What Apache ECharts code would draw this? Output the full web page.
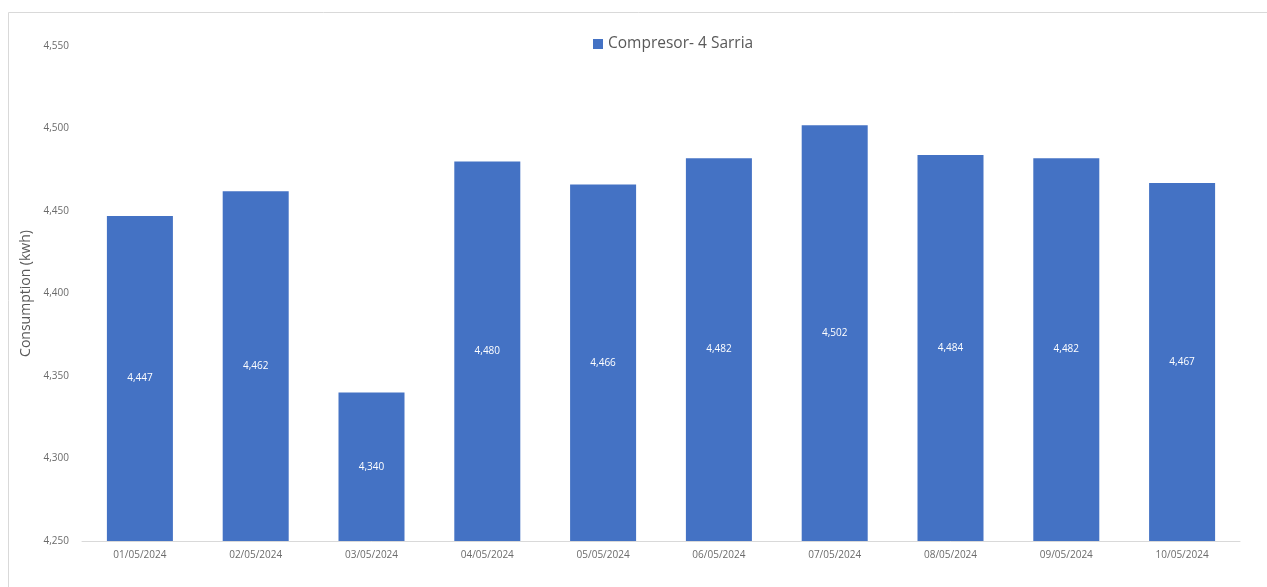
<!DOCTYPE html>
<html>
<head>
<meta charset="utf-8">
<script src="https://cdn.jsdelivr.net/npm/echarts@6/dist/echarts.min.js"></script>
<style>
  html, body { margin: 0; padding: 0; background: #fff; }
  #chart { width: 1267px; height: 587px; }
</style>
</head>
<body>
<div id="chart"></div>
<script>
var days = ["01/05/2024", "02/05/2024", "03/05/2024", "04/05/2024", "05/05/2024",
            "06/05/2024", "07/05/2024", "08/05/2024", "09/05/2024", "10/05/2024"];
var consumption = [4447, 4462, 4340, 4480, 4466, 4482, 4502, 4484, 4482, 4467];
var seriesName = "Compresor- 4 Sarria";

var mychart = echarts.init(document.getElementById("chart"));

var option = {
  animation: false,
  color: ["#4472C4"],
  textStyle: { fontFamily: "Open Sans" },
  graphic: [
    {
      type: "rect",
      shape: { x: 8.5, y: 12.5, width: 1270, height: 590 },
      style: { fill: "none", stroke: "#d9d9d9", lineWidth: 1 },
      silent: true
    }
  ],
  legend: {
    data: [seriesName],
    top: 31,
    left: 588,
    icon: "rect",
    itemWidth: 10,
    itemHeight: 10,
    itemGap: 5,
    textStyle: { color: "#595959", fontSize: 15.5 }
  },
  grid: {
    top: 46,
    left: 82,
    right: 27,
    bottom: 46,
    containLabel: false
  },
  xAxis: {
    type: "category",
    data: days,
    axisTick: { show: false },
    axisLine: { show: true, lineStyle: { color: "#d9d9d9" } },
    axisLabel: { color: "#6b6b6b", fontSize: 10, margin: 9 }
  },
  yAxis: {
    type: "value",
    min: 4250,
    max: 4550,
    interval: 50,
    name: "Consumption (kwh)",
    nameLocation: "middle",
    nameGap: 40,
    nameTextStyle: { color: "#595959", fontSize: 14 },
    axisLine: { show: false },
    axisTick: { show: false },
    splitLine: { show: false },
    axisLabel: {
      color: "#6b6b6b",
      fontSize: 10,
      margin: 13,
      formatter: function (v) { return v.toLocaleString("en-US"); }
    }
  },
  series: [
    {
      name: seriesName,
      type: "bar",
      data: consumption,
      barWidth: "57%",
      label: {
        show: true,
        position: "inside",
        color: "#ffffff",
        fontSize: 10,
        formatter: function (p) { return p.value.toLocaleString("en-US"); }
      }
    }
  ]
};

mychart.setOption(option);
</script>
</body>
</html>
